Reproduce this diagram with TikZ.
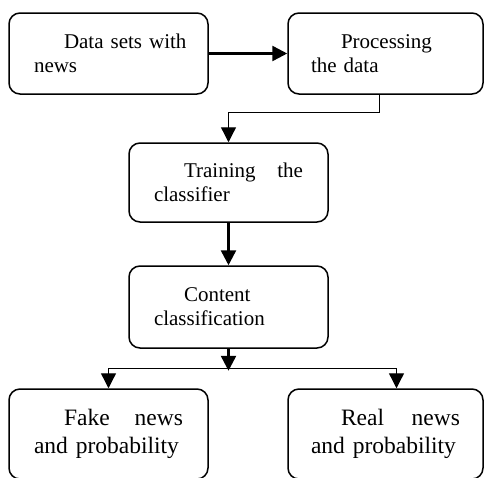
\documentclass[tikz,border=0pt]{standalone}
\usepackage{fontspec}
\setmainfont{Liberation Serif}
\usetikzlibrary{arrows.meta}

\tikzset{
	box/.style={draw=black,line width=1.5pt,rounded corners=11pt,minimum width=199pt,minimum height=81pt,
		text width=149pt,align=left,inner sep=0pt,font=\fontsize{21}{24}\selectfont},
	lastbox/.style={box,minimum height=90pt,font=\fontsize{23.5}{28}\selectfont},
	arr/.style={black,line width=2.5pt,-{Triangle[length=15pt,width=15pt]}},
	thinarr/.style={black,line width=1.3pt,-{Triangle[length=15pt,width=15pt]}}
}

\begin{document}
\begin{tikzpicture}[x=1pt,y=1pt]
\useasboundingbox (0,0) rectangle (484,-477);

\node[box] (data) at (108.5,-53.5) {\hspace*{30pt}\mbox{Data sets with}\\news};
\node[box,minimum width=195pt] (proc) at (385.5,-53.5) {\hspace*{30pt}Processing\\the data};
\node[box,minimum height=79pt] (train) at (228.5,-182.5) {\hspace*{30pt}Training\hfill the\\classifier};
\node[box,minimum height=82pt] (cont) at (228.5,-307) {\hspace*{30pt}Content\\classification};
\node[lastbox] (fake) at (108.5,-434) {\hspace*{30pt}Fake\hfill news\\and probability};
\node[lastbox,minimum width=195pt] (real) at (385.5,-434) {\hspace*{30pt}Real\hfill news\\and probability};

\coordinate (split) at ([yshift=-20pt]cont.south);

\draw[arr] (data.east) -- (proc.west);
\draw[thinarr] ([xshift=-6pt]proc.south) -- ++(0,-18) -| (train.north);
\draw[arr] (train.south) -- (cont.north);
\draw[arr] (cont.south) -- ([yshift=-2pt]split);
\draw[thinarr] (split) -| (fake.north);
\draw[thinarr] (split) -| ([xshift=11pt]real.north);
\end{tikzpicture}
\end{document}
